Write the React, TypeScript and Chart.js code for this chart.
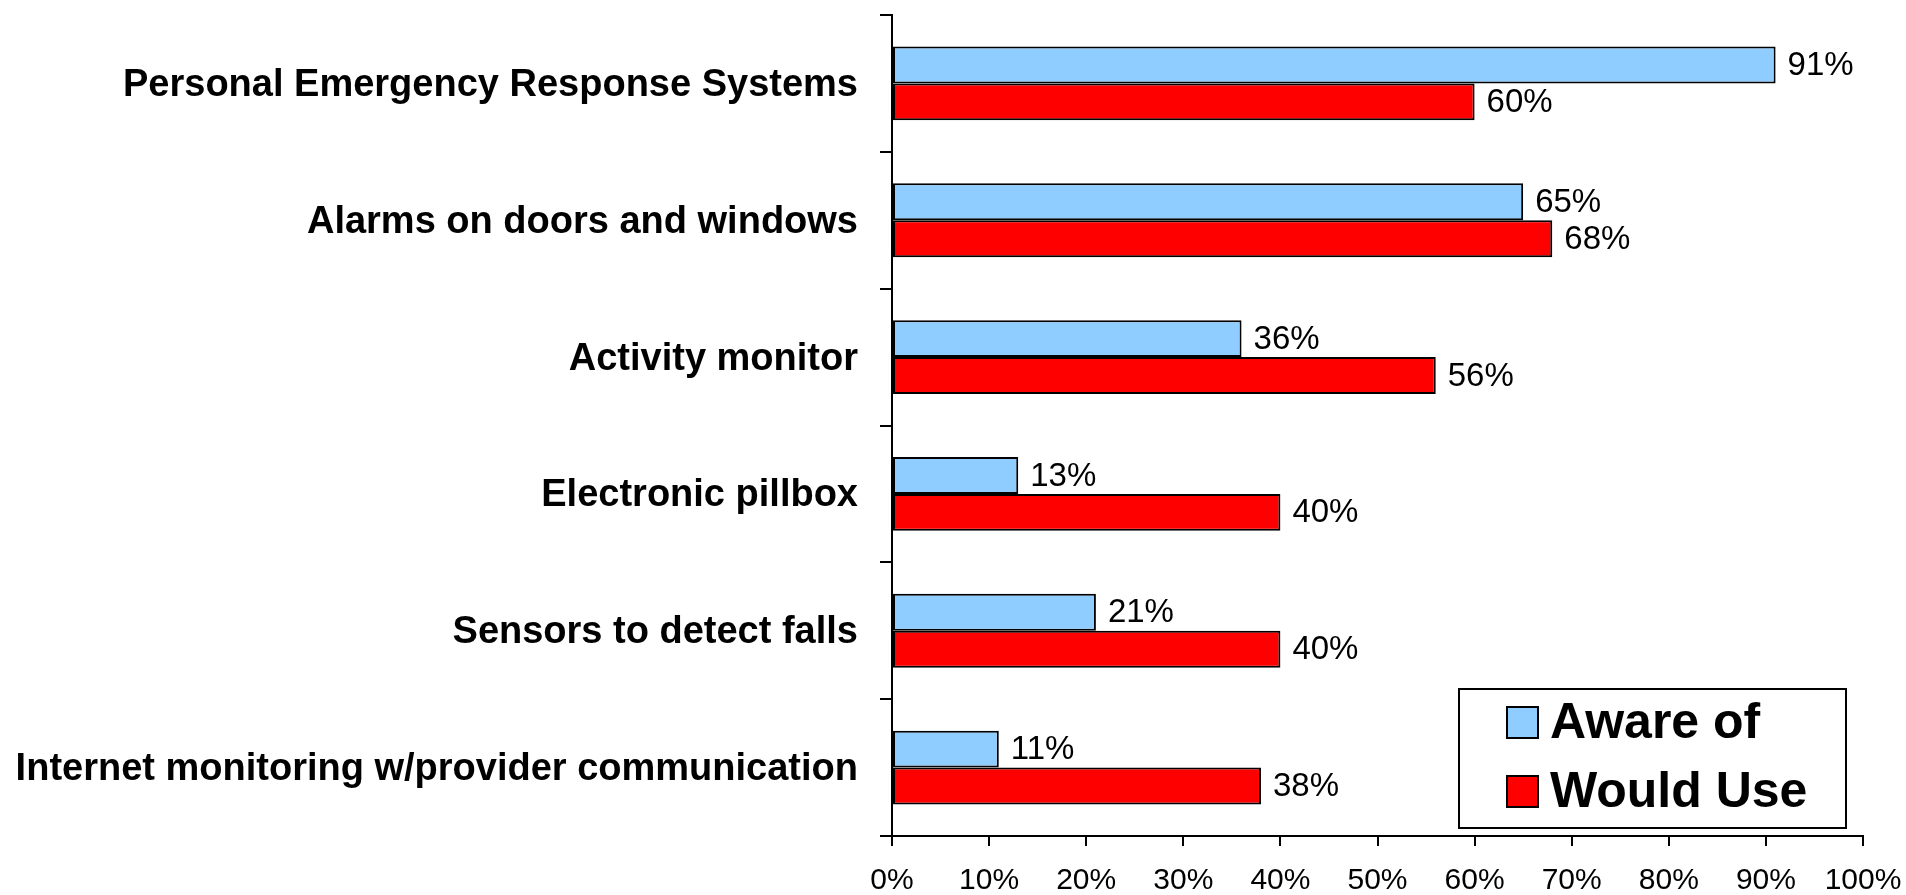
import React, { useEffect, useRef } from "react";
import { Chart, registerables } from "chart.js";

Chart.register(...registerables);

const categories = [
  "Personal Emergency Response Systems",
  "Alarms on doors and windows",
  "Activity monitor",
  "Electronic pillbox",
  "Sensors to detect falls",
  "Internet monitoring w/provider communication",
];
const awareOf = [91, 65, 36, 13, 21, 11];
const wouldUse = [60, 68, 56, 40, 40, 38];
const seriesNames = ["Aware of", "Would Use"];
const xTicks = [0, 10, 20, 30, 40, 50, 60, 70, 80, 90, 100];

const FONT = '"Liberation Sans", Arial, Helvetica, sans-serif';
const W = 1906;
const H = 895;

const valueLabels = {
  id: "valueLabels",
  afterDatasetsDraw(chart: any) {
    const ctx = chart.ctx;
    ctx.save();
    ctx.font = `33px ${FONT}`;
    ctx.fillStyle = "#000";
    ctx.textAlign = "left";
    ctx.textBaseline = "middle";
    chart.data.datasets.forEach((ds: any, di: number) => {
      const meta = chart.getDatasetMeta(di);
      meta.data.forEach((el: any, i: number) => {
        ctx.fillText(`${ds.data[i]}%`, el.x + 12, el.y + 1);
      });
    });
    ctx.restore();
  },
};

const boxLegend = {
  id: "boxLegend",
  afterDraw(chart: any) {
    const ctx = chart.ctx;
    const bx = 1459, by = 689, bw = 387, bh = 139;
    ctx.save();
    ctx.fillStyle = "#fff";
    ctx.fillRect(bx, by, bw, bh);
    ctx.lineWidth = 2;
    ctx.strokeStyle = "#000";
    ctx.strokeRect(bx, by, bw, bh);
    ctx.font = `bold 50px ${FONT}`;
    ctx.textBaseline = "middle";
    ctx.textAlign = "left";
    const rows = [722, 791];
    chart.data.datasets.forEach((ds: any, i: number) => {
      const cy = rows[i];
      ctx.fillStyle = ds.backgroundColor;
      ctx.fillRect(1507, cy - 15, 31, 31);
      ctx.lineWidth = 2;
      ctx.strokeStyle = "#000";
      ctx.strokeRect(1507, cy - 15, 31, 31);
      ctx.fillStyle = "#000";
      ctx.fillText(ds.label, 1550, cy + 2);
    });
    ctx.restore();
  },
};

export default function App() {
  const ref = useRef<HTMLCanvasElement | null>(null);
  useEffect(() => {
    document.body.style.margin = "0";
    const canvas = ref.current!;
    const chart = new Chart(canvas, {
      type: "bar",
      data: {
        labels: categories,
        datasets: [
          {
            label: seriesNames[0],
            data: awareOf,
            backgroundColor: "#8FCCFF",
            borderColor: "#000",
            borderWidth: 2,
            borderSkipped: false,
            categoryPercentage: 0.54,
            barPercentage: 1,
          },
          {
            label: seriesNames[1],
            data: wouldUse,
            backgroundColor: "#FF0000",
            borderColor: "#000",
            borderWidth: 2,
            borderSkipped: false,
            categoryPercentage: 0.54,
            barPercentage: 1,
          },
        ],
      },
      options: {
        indexAxis: "y",
        responsive: false,
        animation: false,
        events: [],
        layout: { padding: { top: 15, right: 43, left: 0, bottom: 0 } },
        plugins: {
          legend: { display: false },
          tooltip: { enabled: false },
          title: { display: false },
        },
        scales: {
          y: {
            type: "category",
            offset: true,
            afterFit(scale: any) {
              scale.width = 892;
              scale.paddingTop = 0;
              scale.paddingBottom = 0;
            },
            grid: {
              display: true,
              offset: true,
              drawOnChartArea: false,
              drawTicks: true,
              tickLength: 12,
              color: "#000",
              lineWidth: 2,
            },
            border: { display: true, color: "#000", width: 2 },
            ticks: {
              color: "#000",
              padding: 22,
              labelOffset: 2,
              font: { family: FONT, size: 38, weight: "bold" },
            },
          },
          x: {
            type: "linear",
            min: 0,
            max: 100,
            afterBuildTicks(scale: any) {
              scale.ticks = xTicks.map((v) => ({ value: v }));
            },
            afterFit(scale: any) {
              scale.height = 59;
              scale.paddingLeft = 0;
              scale.paddingRight = 0;
            },
            grid: {
              display: true,
              drawOnChartArea: false,
              drawTicks: true,
              tickLength: 10,
              color: "#000",
              lineWidth: 2,
            },
            border: { display: true, color: "#000", width: 2 },
            ticks: {
              color: "#000",
              padding: 17,
              maxRotation: 0,
              autoSkip: false,
              font: { family: FONT, size: 30 },
              callback: (v: any) => `${v}%`,
            },
          },
        },
      },
      plugins: [valueLabels, boxLegend],
    } as any);
    return () => chart.destroy();
  }, []);
  return (
    <div style={{ position: "absolute", left: 0, top: 0, width: W, height: H }}>
      <canvas ref={ref} width={W} height={H} style={{ display: "block", width: W, height: H }} />
    </div>
  );
}
